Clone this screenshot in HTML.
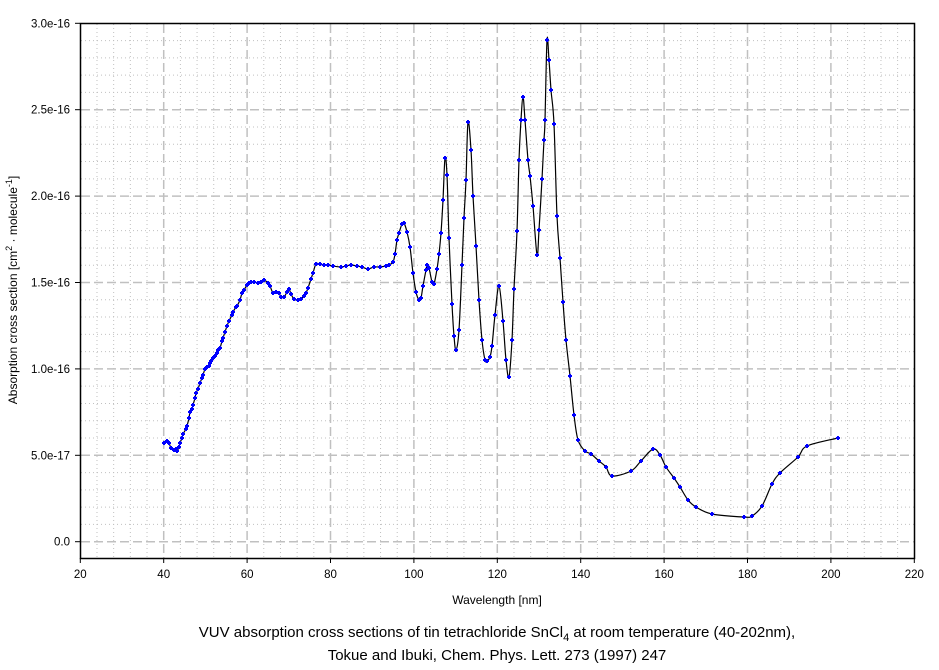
<!DOCTYPE html>
<html><head><meta charset="utf-8"><style>
body{margin:0;background:#fff;}
svg text{font-family:"Liberation Sans",Arial,sans-serif;fill:#000;}
</style></head><body>
<svg id="s" width="939" height="665" xmlns="http://www.w3.org/2000/svg">
<g id="grid"></g>
<rect x="80.5" y="23.5" width="834" height="535" fill="none" stroke="#000" stroke-width="1.5"/>
<g id="ticks" font-size="11.5"></g>
<path id="curve" fill="none" stroke="#000" stroke-width="1.2"/>
<g id="marks" fill="#0000ff"></g>
<text x="497" y="604" font-size="12" text-anchor="middle">Wavelength [nm]</text>
<text transform="translate(17,290) rotate(-90)" font-size="12" text-anchor="middle">Absorption cross section [cm<tspan dy="-5" font-size="9">2</tspan><tspan dy="5"> · molecule</tspan><tspan dy="-5" font-size="9">-1</tspan><tspan dy="5">]</tspan></text>
<text x="497" y="637" font-size="15" text-anchor="middle">VUV absorption cross sections of tin tetrachloride SnCl<tspan dy="4" font-size="11">4</tspan><tspan dy="-4"> at room temperature (40-202nm),</tspan></text>
<text x="497" y="660" font-size="15" text-anchor="middle">Tokue and Ibuki, Chem. Phys. Lett. 273 (1997) 247</text>
</svg>
<script>
var NS="http://www.w3.org/2000/svg";
function el(p,t,a){var e=document.createElementNS(NS,t);for(var k in a)e.setAttribute(k,a[k]);p.appendChild(e);return e;}
var X=function(n){return 80.3+(n-20)*4.17;}, Y=function(v){return 541.7-v*172.8;};
var g=document.getElementById('grid'),tk=document.getElementById('ticks');
for(var n=24;n<220;n+=4){var x=X(n);var maj=(n%20==0);
 el(g,'line',{x1:x,x2:x,y1:24,y2:558,stroke:'#c0c0c0','stroke-width':maj?1.5:1,'stroke-dasharray':maj?'9,4':'1,3'});}
for(var i=0;i<30;i++){var v=i/10;var y=Y(v);if(y<24||y>557)continue;var maj=(i%5==0);
 el(g,'line',{x1:81,x2:914,y1:y,y2:y,stroke:'#c0c0c0','stroke-width':maj?1.5:1,'stroke-dasharray':maj?'9,4':'1,3'});}
for(var n=20;n<=220;n+=20){var x=X(n);el(tk,'line',{x1:x,x2:x,y1:558,y2:563,stroke:'#000'});
 var t=el(tk,'text',{x:x,y:578,'text-anchor':'middle'});t.textContent=n;}
var yl=['0.0','5.0e-17','1.0e-16','1.5e-16','2.0e-16','2.5e-16','3.0e-16'];
for(var i=0;i<7;i++){var y=Y(i*0.5);el(tk,'line',{x1:75,x2:80,y1:y,y2:y,stroke:'#000'});
 var t=el(tk,'text',{x:70,y:y+4,'text-anchor':'end'});t.textContent=yl[i];}
var P=[[164,443],[167,441],[169,443],[171,448],[174,450],[176,449],[177,451],[179,447],[180,443],[182,438],[183,434],[186,429],[187,426],[189,418],[190,412],[192,409],[193,405],[195,398],[196,393],[198,389],[200,383],[202,378],[203,375],[205,369],[207,367],[209,366],[210,363],[211,361],[213,358],[215,356],[217,353],[218,350],[220,348],[222,341],[223,338],[225,332],[227,326],[229,321],[232,315],[233,312],[236,307],[237,306],[240,300],[242,293],[244,290],[247,285],[249,283],[251,282],[254,282],[258,283],[261,282],[264,280],[268,283],[270,286],[273,293],[276,292],[279,293],[281,297],[284,297],[287,292],[289,289],[291,294],[294,299],[298,300],[301,299],[304,296],[306,293],[308,288],[311,279],[313,273],[316,264],[320,264],[324,265],[328,265],[333,266],[341,267],[346,266],[351,265],[357,266],[362,267],[368,269],[374,267],[380,267],[386,266],[389,265],[393,262],[395,254],[397,240],[399,233],[402,224],[404,223],[407,232],[410,247],[413,273],[416,292],[419,300],[421,298],[423,286],[426,270],[427,265],[429,268],[432,282],[434,284],[437,269],[439,254],[441,233],[443,200],[445,158],[447,175],[449,238],[452,304],[454,336],[456,350],[459,330],[462,265],[464,218],[466,180],[468,122],[471,150],[473,196],[476,246],[479,300],[482,340],[485,360],[487,361],[490,357],[492,346],[495,315],[499,286],[503,321],[506,360],[509,377],[512,340],[514,289],[517,231],[519,160],[521,120],[523,97],[525,120],[528,160],[530,176],[533,206],[537,255],[539,230],[542,179],[544,140],[545,120],[547,40],[549,60],[551,90],[554,124],[557,216],[560,258],[563,302],[566,340],[570,376],[574,415],[578,440],[585,451],[591,454],[599,461],[606,467],[612,476],[631,471],[641,461],[653,449],[660,455],[666,467],[674,478],[680,487],[688,500],[696,507],[712,514],[744,517],[752,516],[762,506],[772,484],[780,473],[798,457],[807,446],[838,438]];
var d='M'+P[0][0]+','+P[0][1];
for(var i=0;i<P.length-1;i++){var p0=P[Math.max(i-1,0)],p1=P[i],p2=P[i+1],p3=P[Math.min(i+2,P.length-1)];
 d+=' C'+(p1[0]+(p2[0]-p0[0])/6)+','+(p1[1]+(p2[1]-p0[1])/6)+' '+(p2[0]-(p3[0]-p1[0])/6)+','+(p2[1]-(p3[1]-p1[1])/6)+' '+p2[0]+','+p2[1];}
document.getElementById('curve').setAttribute('d',d);
var m=document.getElementById('marks');
P.forEach(function(p){el(m,'rect',{x:p[0]-2,y:p[1]-1,width:4,height:2});el(m,'rect',{x:p[0]-1,y:p[1]-2,width:2,height:4});});
</script>
</body></html>
